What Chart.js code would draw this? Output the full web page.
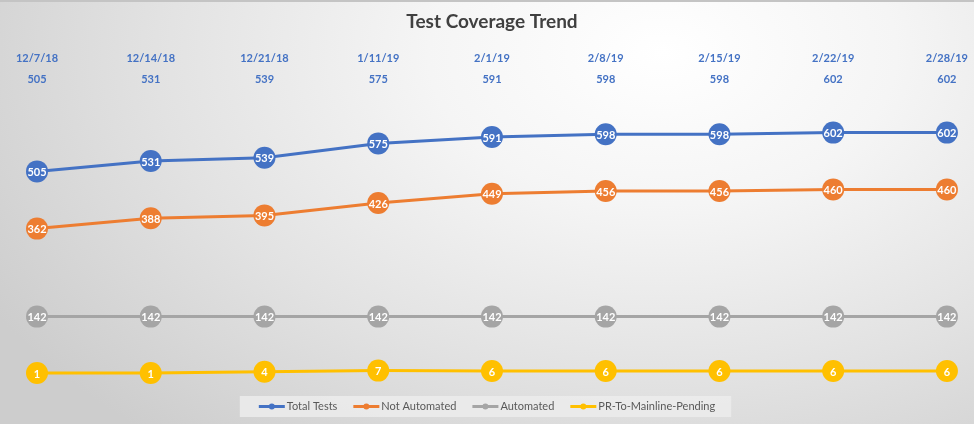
<!DOCTYPE html>
<html>
<head>
<meta charset="utf-8">
<script src="https://cdn.jsdelivr.net/npm/chart.js@4"></script>
<style>
  body { margin: 0; }
  #wrap {
    width: 974px;
    height: 424px;
    box-sizing: border-box;
    border-top: 2px solid #c4c4c4;
    background: radial-gradient(ellipse 80% 120% at 68% 12%, #ffffff 0%, #f5f5f5 30%, #e2e2e2 65%, #cdcdcd 100%);
  }
</style>
</head>
<body>
<div id="wrap"><canvas id="trendChart" width="974" height="422"></canvas></div>
<script>
const dates = ['12/7/18', '12/14/18', '12/21/18', '1/11/19', '2/1/19', '2/8/19', '2/15/19', '2/22/19', '2/28/19'];
const totalTests = [505, 531, 539, 575, 591, 598, 598, 602, 602];
const notAutomated = [362, 388, 395, 426, 449, 456, 456, 460, 460];
const automated = [142, 142, 142, 142, 142, 142, 142, 142, 142];
const prPending = [1, 1, 4, 7, 6, 6, 6, 6, 6];

const seriesNames = ['Total Tests', 'Not Automated', 'Automated', 'PR-To-Mainline-Pending'];
const seriesColors = ['#4472C4', '#ED7D31', '#A5A5A5', '#FFC000'];

// top axis shows the date and the total on two lines
const tickLabels = dates.map((d, i) => [d, String(totalTests[i])]);

function makeSeries(idx, data) {
  return {
    label: seriesNames[idx],
    data: data,
    borderColor: seriesColors[idx],
    backgroundColor: seriesColors[idx],
    borderWidth: 3,
    pointRadius: 11,
    pointHoverRadius: 11,
    pointBorderWidth: 0,
    pointBackgroundColor: seriesColors[idx],
    tension: 0,
    clip: false
  };
}

// white numbers inside the markers
const pointLabels = {
  id: 'pointLabels',
  afterDatasetsDraw(chart) {
    const ctx = chart.ctx;
    ctx.save();
    ctx.font = 'bold 11px Lato';
    ctx.fillStyle = '#ffffff';
    ctx.textAlign = 'center';
    ctx.textBaseline = 'middle';
    chart.data.datasets.forEach((ds, i) => {
      chart.getDatasetMeta(i).data.forEach((pt, j) => {
        ctx.fillText(String(ds.data[j]), pt.x, pt.y + 1);
      });
    });
    ctx.restore();
  }
};

// legend drawn by hand so it can sit in its own box
const boxedLegend = {
  id: 'boxedLegend',
  afterDraw(chart) {
    const ctx = chart.ctx;
    const lineW = 26, gap = 2, itemGap = 16;
    const cy = 404.5;
    ctx.save();
    ctx.font = '11px Lato';
    const widths = chart.data.datasets.map(ds => lineW + gap + ctx.measureText(ds.label).width);
    const total = widths.reduce((a, b) => a + b, 0) + itemGap * (widths.length - 1);
    let x = 487 - total / 2;
    ctx.fillStyle = 'rgba(236,236,236,0.85)';
    ctx.fillRect(x - 19, cy - 10.5, total + 35, 21);
    chart.data.datasets.forEach((ds, i) => {
      ctx.strokeStyle = ds.borderColor;
      ctx.lineWidth = 3;
      ctx.beginPath();
      ctx.moveTo(x, cy);
      ctx.lineTo(x + lineW, cy);
      ctx.stroke();
      ctx.fillStyle = ds.borderColor;
      ctx.beginPath();
      ctx.arc(x + lineW / 2, cy, 3, 0, Math.PI * 2);
      ctx.fill();
      ctx.fillStyle = '#595959';
      ctx.textAlign = 'left';
      ctx.textBaseline = 'middle';
      ctx.fillText(ds.label, x + lineW + gap, cy);
      x += widths[i] + itemGap;
    });
    ctx.restore();
  }
};

new Chart(document.getElementById('trendChart'), {
  type: 'line',
  data: {
    labels: tickLabels,
    datasets: [
      makeSeries(0, totalTests),
      makeSeries(1, notAutomated),
      makeSeries(2, automated),
      makeSeries(3, prPending)
    ]
  },
  options: {
    responsive: false,
    animation: false,
    layout: { padding: { left: 37, right: 27, top: 0, bottom: 37 } },
    plugins: {
      legend: { display: false },
      tooltip: { enabled: false },
      title: {
        display: true,
        text: 'Test Coverage Trend',
        color: '#404040',
        font: { family: 'Lato', size: 19, weight: 'bold', lineHeight: 1.2 },
        padding: { top: 8, bottom: 9 }
      }
    },
    scales: {
      x: {
        position: 'top',
        offset: false,
        grid: { display: false, drawTicks: false },
        border: { display: false },
        ticks: {
          color: '#4472C4',
          font: { family: 'Lato', size: 11, weight: 'bold', lineHeight: '21px' },
          padding: 6,
          maxRotation: 0,
          autoSkip: false
        }
      },
      y: {
        display: false,
        min: -34,
        max: 694
      }
    }
  },
  plugins: [pointLabels, boxedLegend]
});
</script>
</body>
</html>
